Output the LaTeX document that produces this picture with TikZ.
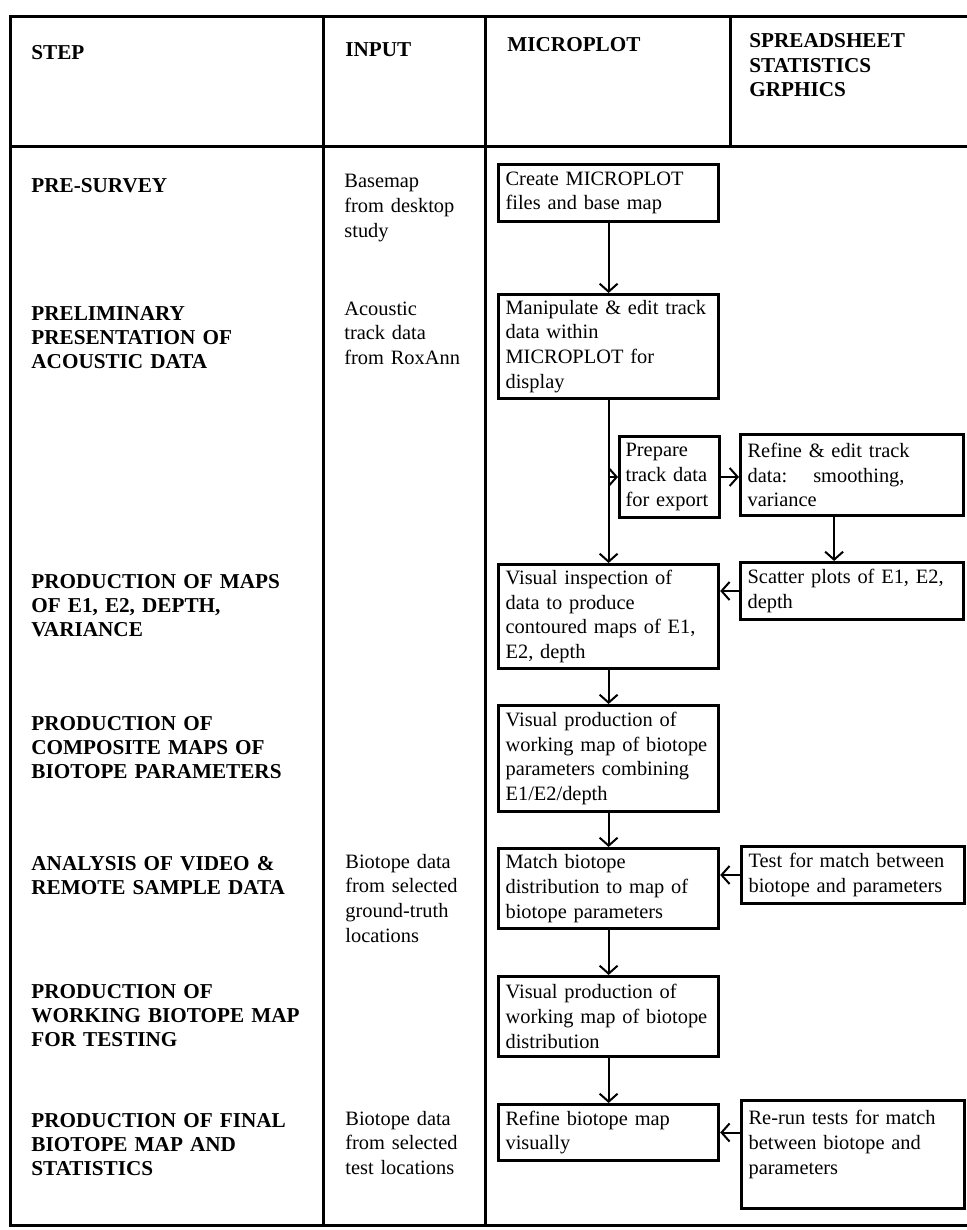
\documentclass[tikz,border=0pt]{standalone}
\usepackage{fontspec}
\setmainfont{Liberation Serif}
\usepackage{tikz}
\usetikzlibrary{arrows.meta}

\newcommand{\chartfont}{\fontsize{10.2pt}{12.4pt}\selectfont}
\newcommand{\headfont}{\fontsize{10.6pt}{12.2pt}\selectfont\bfseries}
\hyphenpenalty=10000
\exhyphenpenalty=10000

\tikzset{
  rule/.style={black, line width=1.5pt, line cap=rect},
  steplabel/.style={anchor=base west, align=left, inner sep=0pt, text width=145pt, font=\headfont},
  inputlabel/.style={anchor=base west, align=left, inner sep=0pt, text width=68pt, font=\chartfont},
  flowbox/.style={draw, black, line width=1.6pt, anchor=north west, align=left,
    inner xsep=3.5pt, inner ysep=2pt, font=\chartfont},
  mainbox/.style={flowbox, text width=103pt},
  sidebox/.style={flowbox, text width=104.5pt},
  link/.style={black, line width=1pt, -{Straight Barb[length=4pt,width=9pt]}}
}

\begin{document}
\begin{tikzpicture}[x=0.5pt, y=-0.5pt]
\useasboundingbox (0,0) rectangle (966,1230);

\draw [rule] (10,17) -- (966,17);
\draw [rule] (10,147) -- (966,147);
\draw [rule] (10,1225) -- (966,1225);
\foreach \x in {10,323,485}
  \draw [rule] (\x,17) -- (\x,1225);
\draw [rule] (730,17) -- (730,147);

\node [steplabel] (hstep) at (31,60) {STEP};
\node [steplabel] (hinput) at (345,57) {INPUT};
\node [steplabel] (hmicro) at (507,52) {MICROPLOT};
\node [steplabel, text width=105pt] (hsheet) at (749,48) {SPREADSHEET\\STATISTICS\\GRPHICS};

\node [steplabel] (spre) at (31,192) {PRE-SURVEY};
\node [steplabel] (sprelim) at (31,320) {PRELIMINARY\\PRESENTATION OF\\ACOUSTIC DATA};
\node [steplabel] (smaps) at (31,588) {PRODUCTION OF MAPS\\OF E1, E2, DEPTH,\\VARIANCE};
\node [steplabel] (scomp) at (31,730) {PRODUCTION OF\\COMPOSITE MAPS OF\\BIOTOPE PARAMETERS};
\node [steplabel] (sanal) at (31,870) {ANALYSIS OF VIDEO \&\\REMOTE SAMPLE DATA};
\node [steplabel] (swork) at (31,998) {PRODUCTION OF\\WORKING BIOTOPE MAP\\FOR TESTING};
\node [steplabel] (sfinal) at (31,1127) {PRODUCTION OF FINAL\\BIOTOPE MAP AND\\STATISTICS};

\node [inputlabel] (ibase) at (344,188) {Basemap\\from desktop\\study};
\node [inputlabel] (iacou) at (344,315) {Acoustic\\track data\\from RoxAnn};
\node [inputlabel] (iground) at (345,868) {Biotope data\\from selected\\ground-truth\\locations};
\node [inputlabel] (itest) at (345,1125) {Biotope data\\from selected\\test locations};

\node [mainbox, minimum height=28.4pt] (create) at (497,163) {Create MICROPLOT\\files and base map};
\node [mainbox, minimum height=51.9pt] (manip) at (497,293) {Manipulate \& edit track\\data within\\MICROPLOT for\\display};
\node [flowbox, text width=44pt, inner xsep=3pt, minimum height=40.4pt] (prep) at (618,435) {Prepare\\track data\\for export};
\node [sidebox, minimum height=40.4pt] (refine) at (739,433) {Refine \& edit track\\data:\hspace{13pt}smoothing,\\variance};
\node [mainbox, minimum height=51.9pt] (visinsp) at (497,563) {Visual inspection of\\data to produce\\contoured maps of E1,\\E2, depth};
\node [sidebox, minimum height=28.4pt] (scatter) at (739,561) {Scatter plots of E1, E2,\\depth};
\node [mainbox, minimum height=52.9pt] (vprod) at (497,704) {Visual production of\\working map of biotope\\parameters combining\\E1/E2/depth};
\node [mainbox, minimum height=39.9pt] (match) at (497,847) {Match biotope\\distribution to map of\\biotope parameters};
\node [sidebox, minimum height=28.4pt] (test) at (740,845) {Test for match between\\biotope and parameters};
\node [mainbox, minimum height=39.9pt] (vprod2) at (497,975) {Visual production of\\working map of biotope\\distribution};
\node [mainbox, minimum height=27.9pt] (refmap) at (497,1103) {Refine biotope map\\visually};
\node [sidebox, text height=10pt, text depth=39.9pt] (rerun) at (740,1099) {Re-run tests for match\\between biotope and\\parameters};

\coordinate (branch) at (manip.south |- prep.west);

\draw [link] (create.south) -- (manip.north);
\draw [link] (manip.south) -- (visinsp.north);
\draw [link] (branch) -- (prep.west);
\draw [link] (prep.east) -- (prep.east -| refine.west);
\draw [link] ([xshift=-9pt]refine.south) -- ([xshift=-9pt]scatter.north);
\draw [link] (scatter.west) -- (scatter.west -| visinsp.east);
\draw [link] (visinsp.south) -- (vprod.north);
\draw [link] (vprod.south) -- (match.north);
\draw [link] (test.west) -- (test.west -| match.east);
\draw [link] (match.south) -- (vprod2.north);
\draw [link] (vprod2.south) -- (refmap.north);
\draw [link] (rerun.west |- refmap.east) -- (refmap.east);

\end{tikzpicture}
\end{document}
